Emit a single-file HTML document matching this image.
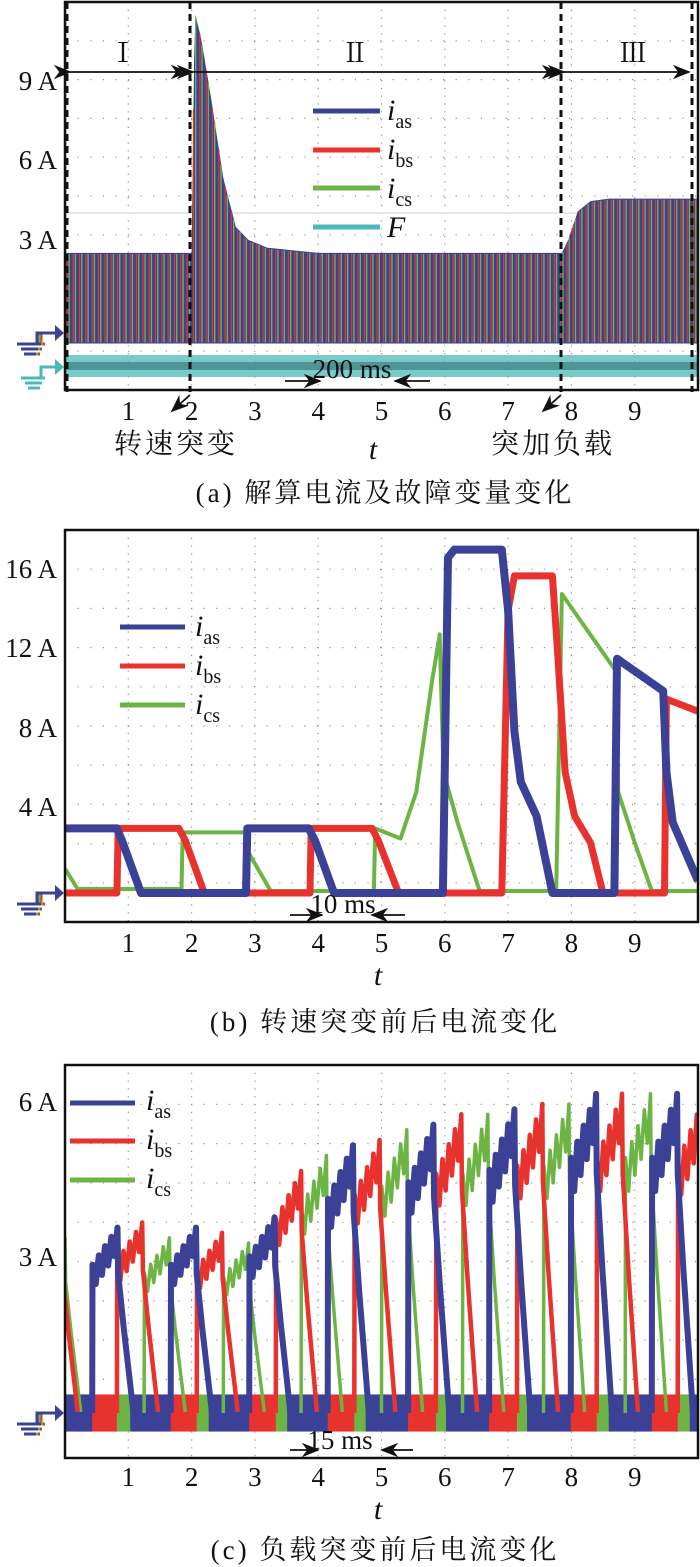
<!DOCTYPE html>
<html><head><meta charset="utf-8">
<style>
html,body{margin:0;padding:0;background:#fff;}
svg{display:block;}
.tk{font-family:"Liberation Serif","Noto Serif CJK SC",serif;font-size:27px;fill:#111;}
.cap{font-family:"Liberation Serif","Noto Serif CJK SC",serif;font-size:27px;letter-spacing:3px;fill:#111;}
.zh{font-family:"Liberation Serif","Noto Serif CJK SC",serif;font-size:28px;letter-spacing:3px;fill:#111;}
.it{font-family:"Liberation Serif",serif;font-style:italic;font-size:30px;fill:#111;}
.sub{font-family:"Liberation Serif",serif;font-size:20px;fill:#111;}
</style></head>
<body>
<svg id="fig" width="700" height="1567" viewBox="0 0 700 1567" xmlns="http://www.w3.org/2000/svg">
<defs>
<clipPath id="ca"><rect x="65" y="2" width="633" height="388"/></clipPath>
<clipPath id="cb"><rect x="65" y="530" width="633" height="392"/></clipPath>
<clipPath id="cc"><rect x="65" y="1065" width="633" height="393"/></clipPath>
<marker id="ah" markerWidth="10" markerHeight="8" refX="9" refY="4" orient="auto"><path d="M0,0 L10,4 L0,8 L3,4 Z" fill="#111"/></marker>
</defs>
<g id="grids"></g>
<g id="pa" clip-path="url(#ca)"></g>
<g id="pb" clip-path="url(#cb)"></g>
<g id="pc" clip-path="url(#cc)"></g>
<g id="deco"></g>

<text class="tk" x="57" y="90" text-anchor="end">9 A</text>
<text class="tk" x="57" y="169" text-anchor="end">6 A</text>
<text class="tk" x="57" y="249" text-anchor="end">3 A</text>
<text class="tk" x="123" y="62" text-anchor="middle">Ⅰ</text>
<text class="tk" x="355" y="62" text-anchor="middle">Ⅱ</text>
<text class="tk" x="633" y="62" text-anchor="middle">Ⅲ</text>
<text class="it" x="387" y="120">i<tspan class="sub" dy="8" font-style="normal">as</tspan></text>
<text class="it" x="387" y="159">i<tspan class="sub" dy="8" font-style="normal">bs</tspan></text>
<text class="it" x="387" y="198">i<tspan class="sub" dy="8" font-style="normal">cs</tspan></text>
<text class="it" x="387" y="237">F</text>
<text class="tk" x="352" y="378" text-anchor="middle">200 ms</text>
<text class="zh" x="176" y="453" text-anchor="middle">转速突变</text>
<text class="it" x="373" y="459" text-anchor="middle">t</text>
<text class="zh" x="553" y="453" text-anchor="middle">突加负载</text>
<text class="cap" x="385" y="502" text-anchor="middle">(a) 解算电流及故障变量变化</text>

<text class="tk" x="57" y="578" text-anchor="end">16 A</text>
<text class="tk" x="57" y="657" text-anchor="end">12 A</text>
<text class="tk" x="57" y="737" text-anchor="end">8 A</text>
<text class="tk" x="57" y="816" text-anchor="end">4 A</text>
<text class="it" x="195" y="636">i<tspan class="sub" dy="8" font-style="normal">as</tspan></text>
<text class="it" x="195" y="675">i<tspan class="sub" dy="8" font-style="normal">bs</tspan></text>
<text class="it" x="195" y="714">i<tspan class="sub" dy="8" font-style="normal">cs</tspan></text>
<text class="tk" x="343" y="913" text-anchor="middle">10 ms</text>
<text class="it" x="378" y="985" text-anchor="middle">t</text>
<text class="cap" x="385" y="1031" text-anchor="middle">(b) 转速突变前后电流变化</text>

<text class="tk" x="57" y="1111" text-anchor="end">6 A</text>
<text class="tk" x="57" y="1266" text-anchor="end">3 A</text>
<text class="it" x="146" y="1110">i<tspan class="sub" dy="8" font-style="normal">as</tspan></text>
<text class="it" x="146" y="1149">i<tspan class="sub" dy="8" font-style="normal">bs</tspan></text>
<text class="it" x="146" y="1188">i<tspan class="sub" dy="8" font-style="normal">cs</tspan></text>
<text class="tk" x="340" y="1449" text-anchor="middle">15 ms</text>
<text class="it" x="378" y="1519" text-anchor="middle">t</text>
<text class="cap" x="385" y="1559" text-anchor="middle">(c) 负载突变前后电流变化</text>
</svg>
<script>
const xTicks=[1,2,3,4,5,6,7,8,9];
const aEnvT=[0,1.95,2.0,2.05,2.15,2.3,2.5,2.7,2.9,3.2,4,7.85,7.95,8.1,8.3,8.6,10];
const aEnvTop=[2.3,2.3,2.3,11.6,10.6,8.4,5.2,3.3,2.8,2.5,2.3,2.3,2.8,3.9,4.3,4.4,4.4];
const aEnvBottom=-1.2;
const bBlue=[[0,3.2],[0.82,3.2],[0.9,2.6],[1.2,0],[2.86,0],[2.88,3.2],[3.85,3.2],[3.95,2.6],[4.25,0],[5.97,0],[6.05,16.6],[6.15,17],[6.9,17],[7.0,14],[7.1,8],[7.2,5.5],[7.45,3.8],[7.7,0],[8.68,0],[8.72,11.6],[9.45,10],[9.5,6],[9.6,3.5],[10,0.6]];
const bRed=[[0,0],[0.82,0],[0.84,3.2],[1.8,3.2],[1.9,2.6],[2.2,0],[3.87,0],[3.89,3.2],[4.85,3.2],[4.95,2.6],[5.27,0],[6.9,0],[7.0,14],[7.1,15.7],[7.7,15.7],[7.78,12],[7.9,6],[8.05,3.8],[8.3,2.5],[8.5,0],[9.47,0],[9.5,9.6],[10,9]];
const bGreen=[[0,1.2],[0.2,0.2],[1.84,0.2],[1.86,3],[2.85,3],[2.9,2],[3.25,0.1],[4.88,0.1],[4.9,3.2],[5.3,2.7],[5.55,5],[5.8,10.5],[5.92,12.8],[5.98,6],[6.2,3.5],[6.55,0.1],[7.76,0.1],[7.85,14.8],[8.7,11],[8.74,5],[9.0,2.5],[9.27,0.1],[10,0.1]];
const cBlueRise=[-0.85,0.43,1.67,2.91,4.15,5.42,6.70,7.99,9.27];
const cBluePeak=[3.6,3.6,3.6,3.8,5.2,5.6,5.9,6.2,6.2];
const cRedRise=[-0.45,0.82,2.08,3.33,4.57,5.86,7.14,8.40,9.68];
const cRedPeak=[3.6,3.7,3.5,4.7,5.3,5.8,6.0,6.2,6.1];
const cGreenRise=[-0.4,1.25,2.5,3.73,5.0,6.28,7.56,8.85];
const cGreenPeak=[3.4,3.4,3.3,5.0,5.5,5.8,6.0,6.2];

const NS="http://www.w3.org/2000/svg";
const X0=65,XS=63.3;
const xt=t=>X0+XS*t;
const ya=v=>312.4-25.87*v;
const yb=v=>893-20.2*v;
const yc=v=>1413-51.5*v;
const C={blue:"#3a4196",red:"#e8322e",green:"#6cb545",teal:"#4cb9b9"};
function mk(tag,parent){const e=document.createElementNS(NS,tag);parent.appendChild(e);return e;}
const grids=document.getElementById('grids'),deco=document.getElementById('deco');

function frame(top,bot,id){
  for(let k=1;k<10;k++){
    const x=X0+XS*k;
    const l=mk('line',grids);
    
    
    l.setAttribute('x1',x);l.setAttribute('x2',x);l.setAttribute('y1',top);l.setAttribute('y2',bot);
    l.setAttribute('stroke','#9a9090');l.setAttribute('stroke-width','1.2');l.setAttribute('stroke-dasharray','1.2 6.6');
    const y=top+(bot-top)/10*k;
    const h=mk('line',grids);
    
    
    h.setAttribute('x1',X0);h.setAttribute('x2',698);h.setAttribute('y1',y);h.setAttribute('y2',y);
    h.setAttribute('stroke','#9a9090');h.setAttribute('stroke-width','1.2');h.setAttribute('stroke-dasharray','1.2 11.4');
  }
  const r=mk('rect',deco);
  
  
  r.setAttribute('x',X0);r.setAttribute('y',top);r.setAttribute('width',633);r.setAttribute('height',bot-top);
  r.setAttribute('fill','none');r.setAttribute('stroke','#111');r.setAttribute('stroke-width','2.5');
}
function ticks(y,id){
  xTicks.forEach(v=>{
    const t=mk('text',deco);
    
    
    t.setAttribute('class','tk');t.setAttribute('x',xt(v));t.setAttribute('y',y);t.setAttribute('text-anchor','middle');
    t.textContent=v;
  });
}
function ground(y,cols,name){
  const g=mk('g',deco);
  
  
  cols.forEach((c,i)=>{
    const o=i*-2;
    const p=mk('path',g);
    p.setAttribute('d',`M${41+o},${y+10} L${41+o},${y} L${56},${y} M${21+o},${y+11} L${45+o},${y+11} M${25+o},${y+16} L${42+o},${y+16} M${28+o},${y+21} L${40+o},${y+21}`);
    p.setAttribute('stroke',c);p.setAttribute('stroke-width','3');p.setAttribute('fill','none');
  });
  const a=mk('path',g);
  a.setAttribute('d',`M55,${y-8} L64,${y} L55,${y+8} Z`);a.setAttribute('fill',cols[cols.length-1]);
}
function line(x1,y1,x2,y2,name,extra){
  const l=mk('line',deco);
  
  
  l.setAttribute('x1',x1);l.setAttribute('y1',y1);l.setAttribute('x2',x2);l.setAttribute('y2',y2);
  l.setAttribute('stroke','#111');l.setAttribute('stroke-width','1.8');
  if(extra)for(const k in extra)l.setAttribute(k,extra[k]);
  return l;
}
function legend(x1,x2,ys,cols,id){
  ys.forEach((y,i)=>{
    const l=mk('line',deco);
    
    
    l.setAttribute('x1',x1);l.setAttribute('x2',x2);l.setAttribute('y1',y);l.setAttribute('y2',y);
    l.setAttribute('stroke',cols[i]);l.setAttribute('stroke-width','5');
  });
}
function interp(ts,vs,t){
  if(t<=ts[0])return vs[0];
  for(let i=1;i<ts.length;i++){if(t<=ts[i]){const f=(t-ts[i-1])/(ts[i]-ts[i-1]);return vs[i-1]+f*(vs[i]-vs[i-1]);}}
  return vs[vs.length-1];
}

// panel a
frame(2,390,'a');
const pa=document.getElementById('pa');
const pink=mk('line',pa);


pink.setAttribute('x1',65);pink.setAttribute('x2',698);pink.setAttribute('y1',213);pink.setAttribute('y2',213);
pink.setAttribute('stroke','#ecdcdc');pink.setAttribute('stroke-width','1.5');
const fb=mk('rect',pa);


fb.setAttribute('x',65);fb.setAttribute('y',355);fb.setAttribute('width',633);fb.setAttribute('height',22);fb.setAttribute('fill',C.teal);fb.setAttribute('opacity','0.75');
const fc=mk('rect',pa);


fc.setAttribute('x',65);fc.setAttribute('y',362);fc.setAttribute('width',633);fc.setAttribute('height',8);fc.setAttribute('fill','#3b7878');fc.setAttribute('opacity','0.65');
let pts=[];
for(let t=0;t<=10.001;t+=0.02)pts.push(xt(t).toFixed(1)+','+ya(interp(aEnvT,aEnvTop,t)).toFixed(1));
pts.push(xt(10)+','+ya(aEnvBottom));pts.push(xt(0)+','+ya(aEnvBottom));
const env=mk('polygon',pa);


env.setAttribute('points',pts.join(' '));env.setAttribute('fill',C.blue);
for(let t=0;t<10;t+=0.1){
  [[0.03,C.red,1.3,'ibs'],[0.065,C.green,1.4,'ics']].forEach(([o,c,w,n])=>{
    const tt=t+o;const l=mk('line',pa);
    
    
    l.setAttribute('x1',xt(tt));l.setAttribute('x2',xt(tt));
    l.setAttribute('y1',ya(interp(aEnvT,aEnvTop,tt))+1);l.setAttribute('y2',ya(aEnvBottom)-1);
    l.setAttribute('stroke',c);l.setAttribute('stroke-width',w);
  });
}
[67,190,561,692].forEach((x,i)=>line(x,2,x,392,'event-divider-'+i,{'stroke-dasharray':'7 5','stroke-width':'3'}));
line(70,72,187,72,'region-1-arrow',{'marker-end':'url(#ah)','marker-start':'url(#ah)'});
line(193,72,558,72,'region-2-arrow',{'marker-end':'url(#ah)','marker-start':'url(#ah)'});
line(564,72,689,72,'region-3-arrow',{'marker-end':'url(#ah)','marker-start':'url(#ah)'});
line(285,381,320,381,'timescale-a-arrow-right',{'marker-end':'url(#ah)'});
line(430,381,395,381,'timescale-a-arrow-left',{'marker-end':'url(#ah)'});
line(190,395,172,411,'speed-change-pointer',{'marker-end':'url(#ah)'});
line(561,395,543,411,'load-change-pointer',{'marker-end':'url(#ah)'});
legend(313,380,[111,150,188,227],[C.blue,C.red,C.green,C.teal],'a');
ground(333,[C.red,C.green,C.blue],'ground-marker-currents-a');
ground(367,[C.teal],'ground-marker-f');
ticks(420,'a');

// panel b
frame(530,922,'b');
const pb=document.getElementById('pb');
[[bGreen,C.green,4,'trace-b-ics'],[bRed,C.red,7,'trace-b-ibs'],[bBlue,C.blue,8,'trace-b-ias']].forEach(([k,c,w,n])=>{
  const p=mk('polyline',pb);
  
  
  p.setAttribute('points',k.map(q=>xt(q[0]).toFixed(1)+','+yb(q[1]).toFixed(1)).join(' '));
  p.setAttribute('fill','none');p.setAttribute('stroke',c);p.setAttribute('stroke-width',w);p.setAttribute('stroke-linejoin','round');
});
legend(120,185,[627,666,705],[C.blue,C.red,C.green],'b');
ground(893,[C.red,C.green,C.blue],'ground-marker-b');
line(290,915,322,915,'timescale-b-arrow-right',{'marker-end':'url(#ah)'});
line(405,915,372,915,'timescale-b-arrow-left',{'marker-end':'url(#ah)'});
ticks(952,'b');

// panel c
frame(1065,1458,'c');
const pc=document.getElementById('pc');
function cycles(rises,col,name){
  for(let i=0;i<rises.length;i++){
    const s=rises[i]+0.6,e=(i+1<rises.length?rises[i+1]:10.5);
    const b=mk('rect',pc);
    
    
    b.setAttribute('x',xt(s));b.setAttribute('y',yc(0.36));b.setAttribute('width',Math.max(0,xt(e)-xt(s)));b.setAttribute('height',yc(-0.36)-yc(0.36));
    b.setAttribute('fill',col);
  }
}
function cycleLines(rises,peaks,col,w,name){
  rises.forEach((r,i)=>{
    const p=peaks[i];const q=[[r,0]];
    const n=8;
    for(let k=0;k<=n;k++){const f=k/n;q.push([r+0.005+0.395*f,(0.8+0.2*f)*p-(k%2?0.13*p:0)]);}
    q.push([r+0.41,0.75*p],[r+0.5,0.45*p],[r+0.65,0.02]);
    const pl=mk('polyline',pc);
    
    
    pl.setAttribute('points',q.map(a=>xt(a[0]).toFixed(1)+','+yc(a[1]).toFixed(1)).join(' '));
    pl.setAttribute('fill','none');pl.setAttribute('stroke',col);pl.setAttribute('stroke-width',w);pl.setAttribute('stroke-linejoin','round');
  });
}
cycles(cGreenRise,C.green,'trace-c-ics');
cycles(cRedRise,C.red,'trace-c-ibs');
cycles(cBlueRise,C.blue,'trace-c-ias');
cycleLines(cGreenRise,cGreenPeak,C.green,3.5,'trace-c-ics');
cycleLines(cRedRise,cRedPeak,C.red,4.5,'trace-c-ibs');
cycleLines(cBlueRise,cBluePeak,C.blue,6,'trace-c-ias');
legend(70,135,[1103,1141,1180],[C.blue,C.red,C.green],'c');
ground(1413,[C.red,C.green,C.blue],'ground-marker-c');
line(290,1450,318,1450,'timescale-c-arrow-right',{'marker-end':'url(#ah)'});
line(413,1450,382,1450,'timescale-c-arrow-left',{'marker-end':'url(#ah)'});
ticks(1486,'c');
</script>
</body></html>
